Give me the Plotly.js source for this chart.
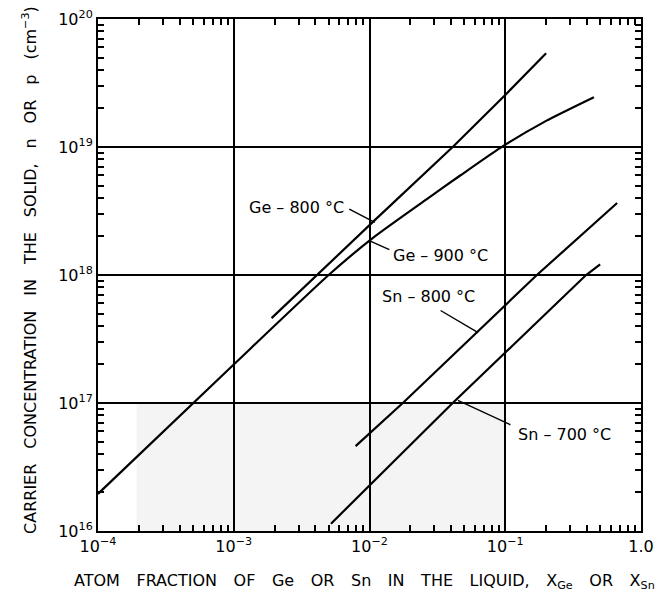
<!DOCTYPE html>
<html>
<head>
<meta charset="utf-8">
<script src="https://cdn.plot.ly/plotly-3.0.1.min.js"></script>
<style>
  html, body { margin: 0; padding: 0; background: #ffffff; }
  #chart { width: 661px; height: 599px; }
</style>
</head>
<body>
<div id="chart"></div>
<script>
// ---- data (x = atom fraction in liquid, y = carrier conc. cm^-3) ----
const ge800X = [1.9e-3, 4.1e-3, 1.06e-2, 4.1e-2, 0.1, 0.2];
const ge800Y = [4.6e17, 1.0e18, 2.6e18, 1.0e19, 2.55e19, 5.4e19];

const ge900X = [1.0e-4, 1.0e-3, 5.0e-3, 1.06e-2, 2.63e-2, 4.63e-2, 9.14e-2, 0.2, 0.45];
const ge900Y = [1.95e16, 2.0e17, 1.0e18, 1.95e18, 3.9e18, 5.96e18, 9.8e18, 1.6e19, 2.45e19];

const sn800X = [7.9e-3, 1.76e-2, 0.171, 0.667];
const sn800Y = [4.6e16, 1.0e17, 1.0e18, 3.65e18];

const sn700X = [5.2e-3, 4.1e-2, 0.394, 0.5];
const sn700Y = [1.14e16, 1.0e17, 1.0e18, 1.21e18];

const seriesNames = ['Ge – 800 °C', 'Ge – 900 °C', 'Sn – 800 °C', 'Sn – 700 °C'];

const xTickVals = [1e-4, 1e-3, 1e-2, 1e-1, 1];
const xTickText = ['10<sup>−4</sup>', '10<sup>−3</sup>', '10<sup>−2</sup>', '10<sup>−1</sup>', '1.0'];
const yTickVals = [1e16, 1e17, 1e18, 1e19, 1e20];
const yTickText = ['10<sup>16</sup>', '10<sup>17</sup>', '10<sup>18</sup>', '10<sup>19</sup>', '10<sup>20</sup>'];
const minorDigits = [2, 3, 4, 5, 6, 7, 8, 9];
const xDecades = [-4, -3, -2, -1];
const yDecades = [16, 17, 18, 19];

function minorTicks(decades) {
  const out = [];
  decades.forEach(function (d) { minorDigits.forEach(function (k) { out.push(k * Math.pow(10, d)); }); });
  return out;
}

const FONT = 'DejaVu Sans, Arial, sans-serif';

function lineTrace(x, y, name, shape) {
  return {
    x: x, y: y, name: name, type: 'scatter', mode: 'lines',
    line: { color: '#000000', width: 2.2, shape: shape || 'linear', smoothing: 0.6 },
    hoverinfo: 'skip', showlegend: false
  };
}

const data = [
  lineTrace(ge800X, ge800Y, seriesNames[0]),
  lineTrace(ge900X, ge900Y, seriesNames[1], 'spline'),
  lineTrace(sn800X, sn800Y, seriesNames[2]),
  lineTrace(sn700X, sn700Y, seriesNames[3])
];

function axis(range, vals, text, minorVals) {
  return {
    type: 'log', range: range,
    showline: true, linecolor: '#000000', linewidth: 2, mirror: 'allticks',
    showgrid: true, gridcolor: '#000000', gridwidth: 2,
    zeroline: false,
    tickmode: 'array', tickvals: vals, ticktext: text,
    ticks: 'inside', ticklen: 6, tickwidth: 1.5, tickcolor: '#000000',
    tickfont: { family: FONT, size: 16, color: '#000000' },
    minor: { tickmode: 'array', tickvals: minorVals, ticks: 'inside', ticklen: 6,
             tickwidth: 1.5, tickcolor: '#000000', showgrid: false }
  };
}

function label(text, x, y) {
  return { text: text, x: x, y: y, xref: 'x', yref: 'y', showarrow: false,
           font: { family: FONT, size: 16, color: '#000000' } };
}
function pointer(x, y, ax, ay) {
  return { text: '', x: x, y: y, xref: 'x', yref: 'y', ax: ax, ay: ay,
           showarrow: true, arrowhead: 0, arrowwidth: 1.4, arrowcolor: '#000000', standoff: 0 };
}

const xTitle = ['ATOM', 'FRACTION', 'OF', 'Ge', 'OR', 'Sn', 'IN', 'THE', 'LIQUID,', 'X<sub>Ge</sub>', 'OR', 'X<sub>Sn</sub>'].join('\u00a0\u00a0\u2009\u2009');
const yTitle = ['CARRIER', 'CONCENTRATION', 'IN', 'THE', 'SOLID,', 'n', 'OR', 'p', '(cm<sup>−3</sup>)'].join('\u00a0\u00a0\u2009\u200a');

const layout = {
  width: 661, height: 599,
  margin: { l: 98, r: 20, t: 19, b: 68 },
  paper_bgcolor: '#ffffff', plot_bgcolor: '#ffffff',
  showlegend: false,
  xaxis: axis([-4, 0], xTickVals, xTickText, minorTicks(xDecades)),
  yaxis: axis([16, 20], yTickVals, yTickText, minorTicks(yDecades)),
  shapes: [
    { type: 'rect', xref: 'paper', yref: 'paper', x0: 0.071, x1: 0.749, y0: 0, y1: 0.249,
      fillcolor: '#f4f4f4', line: { width: 0 }, layer: 'below' }
  ],
  annotations: [
    label(seriesNames[0], -2.536, 18.529),
    pointer(-1.961, 18.412, -27, -14),
    label(seriesNames[1], -1.474, 18.154),
    pointer(-1.990, 18.263, 20, 9),
    label(seriesNames[2], -1.563, 17.833),
    pointer(-1.200, 17.55, -39, -23),
    label(seriesNames[3], -0.560, 16.754),
    pointer(-1.349, 17.02, 54, 25),
    { text: xTitle,
      xref: 'paper', yref: 'paper', x: 0.491, y: -0.0987, showarrow: false,
      xanchor: 'center', yanchor: 'middle',
      font: { family: FONT, size: 16, color: '#000000' } },
    { text: yTitle,
      xref: 'paper', yref: 'paper', x: -0.126, y: 0.509, showarrow: false, textangle: -90,
      xanchor: 'center', yanchor: 'middle',
      font: { family: FONT, size: 16, color: '#000000' } }
  ]
};

Plotly.newPlot('chart', data, layout, { displayModeBar: false });
</script>
</body>
</html>
